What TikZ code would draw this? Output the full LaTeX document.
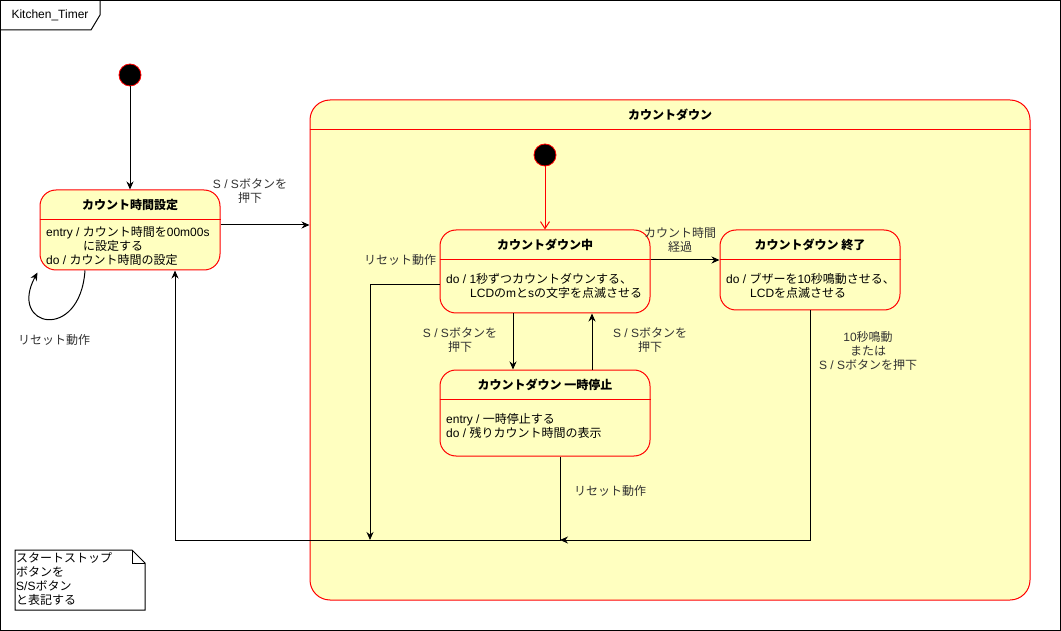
\documentclass[tikz,border=0pt]{standalone}
\usepackage{fontspec}
\setmainfont{Liberation Sans}
\newfontfamily\latfont{Liberation Sans}
\newfontfamily\jpfont{Noto Sans CJK JP}
\usetikzlibrary{arrows.meta}
\usetikzlibrary{calc}

% Japanese characters switch to the CJK font by themselves
\XeTeXinterchartokenstate=1
\chardef\jpclass=10
\newcount\chrno
\def\setjp#1#2{\chrno=#1 \loop\XeTeXcharclass\chrno=\jpclass \ifnum\chrno<#2 \advance\chrno by 1 \repeat}
\setjp{"3000}{"30FF}
\setjp{"4E00}{"9FFF}
\setjp{"FF00}{"FFEF}
\XeTeXinterchartoks 0 \jpclass = {\jpfont}
\XeTeXinterchartoks 4095 \jpclass = {\jpfont}
\XeTeXinterchartoks \jpclass 0 = {\latfont}
\XeTeXinterchartoks 4095 0 = {\latfont}

\definecolor{statefill}{HTML}{FFFFC0}
\definecolor{stateline}{HTML}{FF0000}
\newcommand{\fz}{\fontsize{12}{14}\selectfont}

\begin{document}
\begin{tikzpicture}[
        x=1pt, y=-1pt,
        every node/.style={font=\fz},
        stbox/.style={draw=stateline, fill=statefill, rounded corners=16pt, line width=1pt, inner sep=0},
        divline/.style={draw=stateline, line width=1pt},
        sttitle/.style={font=\fz\bfseries, inner sep=0},
        stbody/.style={align=left, anchor=west, inner sep=0},
        initdot/.style={circle, fill=black, draw=stateline, line width=0.8pt, minimum size=22pt, inner sep=0},
        arr/.style={-{Stealth[length=8pt, width=7pt]}, line width=1pt},
        lbl/.style={align=center, text=black!80, inner sep=0}
    ]
        \useasboundingbox (0,0) rectangle (1061,631);
        % Rahmen
        \draw[line width=1pt] (0.5,0.5) rectangle (1060.5,630.5);
        \draw[line width=1pt] (0.5,30) -- (91,30) -- (100,15) -- (100,0.5);
        \node (frameTitle) at (50,15) {Kitchen\_Timer};

        % Zeit einstellen
        \node[initdot] (start) at (130,75) {};
        \node[stbox, minimum width=180pt, minimum height=80pt] (setting) at (130,230) {};
        \draw[divline] (setting.west |- 0,220) -- (setting.east |- 0,220);
        \node[sttitle] (settingTitle) at (130,205) {カウント時間設定};
        \node[stbody] (settingBody) at (46,246) {entry / カウント時間を00m00s\\\hspace*{37pt}に設定する\\do / カウント時間の設定};

        % Countdown
        \node[stbox, rounded corners=20pt, minimum width=720pt, minimum height=500pt] (countdown) at (670,350) {};
        \draw[divline] (countdown.west |- 0,130) -- (countdown.east |- 0,130);
        \node[sttitle] (countdownTitle) at (670,115) {カウントダウン};
        \node[initdot] (start2) at (545,155) {};

        \node[stbox, minimum width=210pt, minimum height=83pt] (running) at (545,271.5) {};
        \draw[divline] (running.west |- 0,260) -- (running.east |- 0,260);
        \node[sttitle] (runningTitle) at (545,245) {カウントダウン中};
        \node[stbody] (runningBody) at (446,286) {do / 1秒ずつカウントダウンする、\\\hspace*{24pt}LCDのmとsの文字を点滅させる};

        \node[stbox, minimum width=180pt, minimum height=80pt] (ending) at (810,270) {};
        \draw[divline] (ending.west |- 0,260) -- (ending.east |- 0,260);
        \node[sttitle] (endingTitle) at (810,245) {カウントダウン 終了};
        \node[stbody] (endingBody) at (726,286) {do / ブザーを10秒鳴動させる、\\\hspace*{24pt}LCDを点滅させる};

        \node[stbox, minimum width=210pt, minimum height=86pt] (pausing) at (545,413) {};
        \draw[divline] (pausing.west |- 0,399) -- (pausing.east |- 0,399);
        \node[sttitle] (pausingTitle) at (545,385) {カウントダウン 一時停止};
        \node[stbody] (pausingBody) at (446,426) {entry / 一時停止する\\do / 残りカウント時間の表示};

        % Uebergaenge
        \draw[arr] (start) -- (setting);
        \draw[arr] ([yshift=5pt]setting.east) -- ([yshift=5pt]setting.east -| countdown.west);
        \draw[arr] ([xshift=-45pt]setting.south) .. controls +(-5,72) and +(-30,55) .. ([shift={(-2,2)}]setting.south west);
        \draw[line width=1pt, draw=stateline, -{Straight Barb[length=7pt, width=9pt]}] (start2) -- (running);
        \draw[arr] ([yshift=11.5pt]running.east) -- ([yshift=11.5pt]running.east -| ending.west);
        \draw[arr] ([xshift=-32pt]running.south) -- ([xshift=-32pt]running.south |- pausing.north);
        \draw[arr] ([xshift=47pt]pausing.north) -- ([xshift=47pt]pausing.north |- running.south);

        % Reset
        \coordinate (join1) at (370,540);
        \coordinate (join2) at (560,540);
        \draw[arr] ([yshift=-13.5pt]running.west) -| (join1);
        \draw[arr] ([xshift=15pt]pausing.south) -- (join2) -| ([xshift=45pt]setting.south);
        \draw[arr] (ending.south) |- (join2);

        % Beschriftungen
        \node[lbl] (lblStart) at (250,191) {S / Sボタンを\\押下};
        \node[lbl] (lblLoop) at (54,340) {リセット動作};
        \node[lbl] (lblReset1) at (400,260) {リセット動作};
        \node[lbl] (lblElapsed) at (680,240) {カウント時間\\経過};
        \node[lbl] (lblPause) at (460,340) {S / Sボタンを\\押下};
        \node[lbl] (lblResume) at (650,340) {S / Sボタンを\\押下};
        \node[lbl] (lblFinish) at (868,351) {10秒鳴動\\または\\S / Sボタンを押下};
        \node[lbl] (lblReset2) at (610,491) {リセット動作};

        % Notiz
        \draw[line width=1pt, fill=white] (15,550) -- (132,550) -- (145,563) -- (145,610) -- (15,610) -- cycle;
        \draw[line width=1pt] (132,550) -- (132,563) -- (145,563);
        \node[stbody] (note) at (16,579) {スタートストップ\\ボタンを\\S/Sボタン\\と表記する};
    \end{tikzpicture}
\end{document}
